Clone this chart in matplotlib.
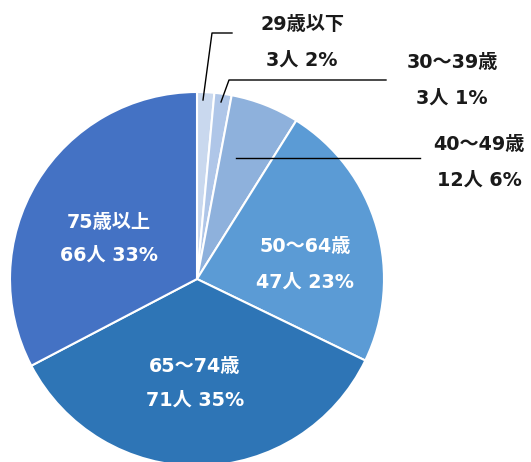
import matplotlib.pyplot as plt

plt.rcParams['font.family'] = ['DejaVu Sans', 'Noto Sans CJK JP']

# --- DATA ---
groups = ["29歳以下", "30〜39歳", "40〜49歳", "50〜64歳", "65〜74歳", "75歳以上"]
counts = [3, 3, 12, 47, 71, 66]
pct_labels = ["3人 2%", "3人 1%", "12人 6%", "47人 23%", "71人 35%", "66人 33%"]
colors = ["#C9D8EE", "#AFC6E8", "#8EB1DC", "#5B9BD5", "#2E75B6", "#4472C4"]

W, H = 531, 462
fig = plt.figure(figsize=(W / 100, H / 100), dpi=100)
ax = fig.add_axes([0, 0, 1, 1])

cx, cy, r = 197, H - 279, 187
ax.pie(counts, colors=colors, startangle=90, counterclock=False,
       center=(cx, cy), radius=r, frame=True,
       wedgeprops=dict(edgecolor="white", linewidth=1.5))
ax.set_xlim(0, W)
ax.set_ylim(0, H)
ax.axis("off")

fs = 13.8

def px(x, y):
    return x, H - y

# inside labels (white)
inside = {3: (305, 247, 282), 4: (195, 367, 400), 5: (109, 222, 255)}
for i, (x, y1, y2) in inside.items():
    ax.text(*px(x, y1), groups[i], color="white", fontsize=fs, fontweight="bold",
            ha="center", va="center")
    ax.text(*px(x, y2), pct_labels[i], color="white", fontsize=fs, fontweight="bold",
            ha="center", va="center")

# outside labels with leader lines
outside = {0: (302, 24, 60), 1: (452, 63, 98), 2: (479, 145, 180)}
for i, (x, y1, y2) in outside.items():
    ax.text(*px(x, y1), groups[i], color="#1a1a1a", fontsize=fs, fontweight="bold",
            ha="center", va="center")
    ax.text(*px(x, y2), pct_labels[i], color="#1a1a1a", fontsize=fs, fontweight="bold",
            ha="center", va="center")

leaders = [
    [(203, 100), (212, 33), (232, 33)],
    [(221, 102), (229, 80), (386, 80)],
    [(236, 158), (420, 158)],
]
for pts in leaders:
    xs = [p[0] for p in pts]
    ys = [H - p[1] for p in pts]
    ax.plot(xs, ys, color="black", linewidth=1)

fig.savefig("out.png", dpi=100)
